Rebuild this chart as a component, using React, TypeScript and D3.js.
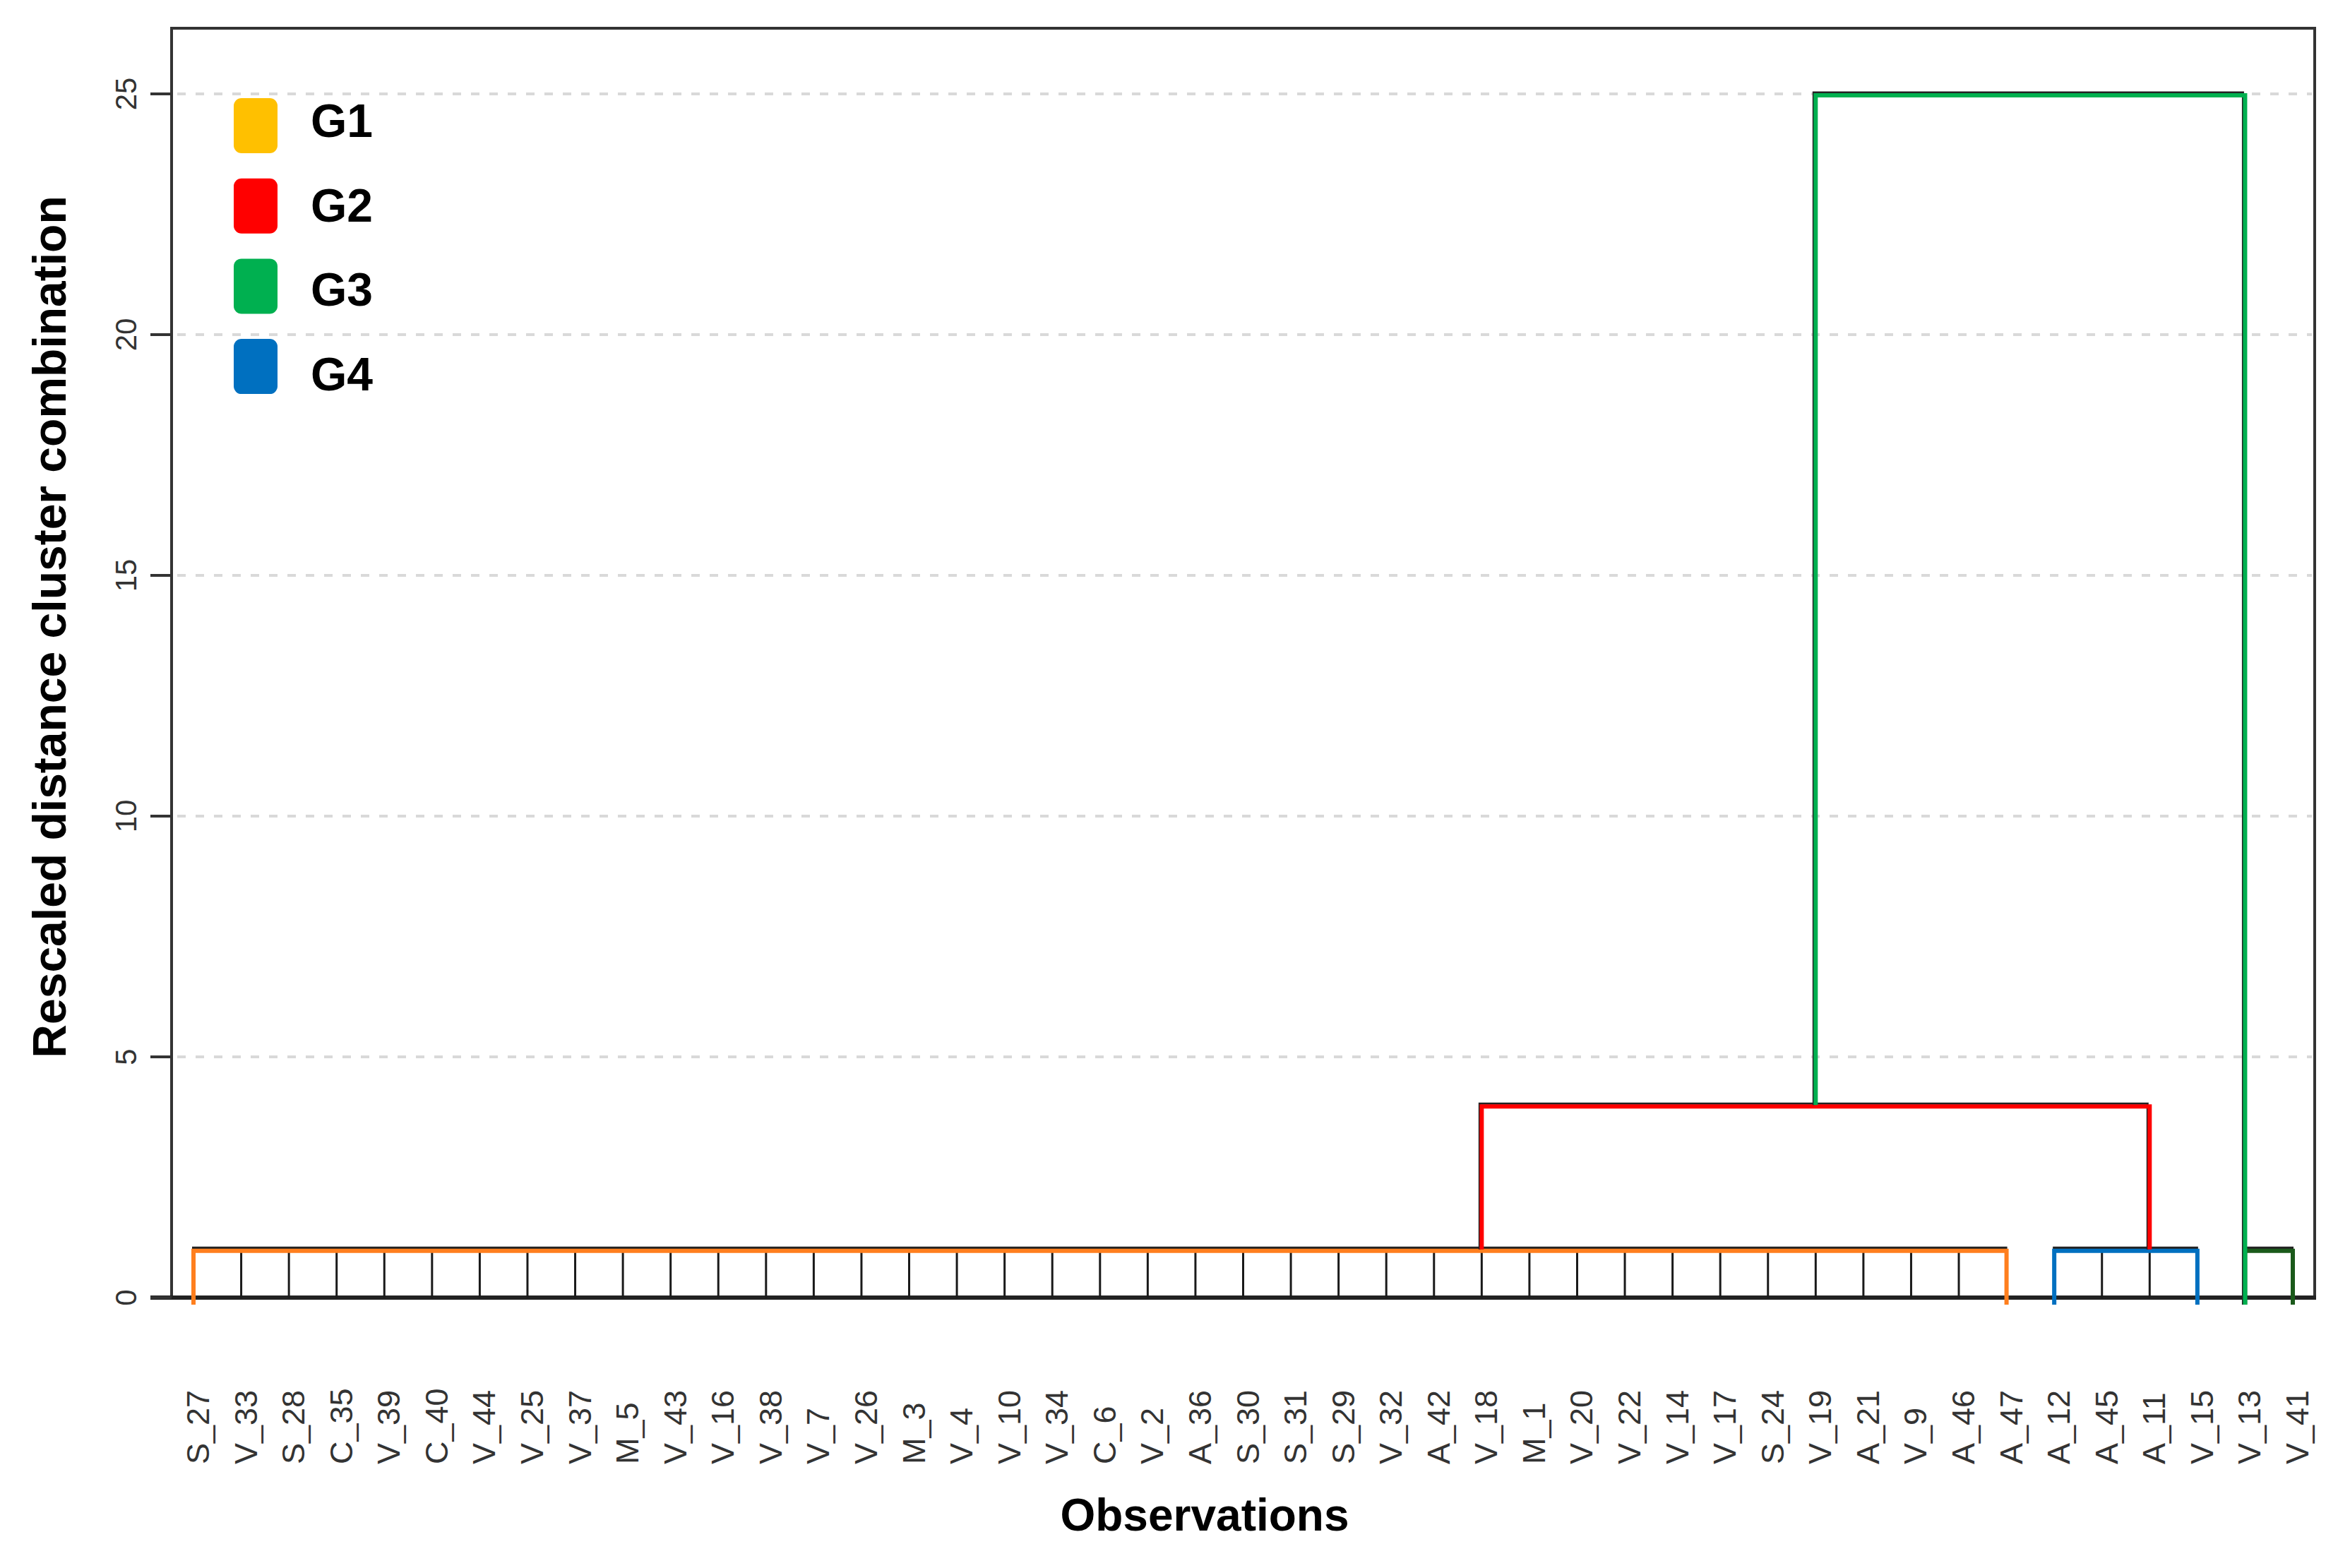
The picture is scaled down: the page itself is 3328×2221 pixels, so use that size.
import React from "react";
import * as d3 from "d3";

const leafLabels = [
  "S_27", "V_33", "S_28", "C_35", "V_39", "C_40", "V_44", "V_25", "V_37", "M_5",
  "V_43", "V_16", "V_38", "V_7", "V_26", "M_3", "V_4", "V_10", "V_34", "C_6",
  "V_2", "A_36", "S_30", "S_31", "S_29", "V_32", "A_42", "V_18", "M_1", "V_20",
  "V_22", "V_14", "V_17", "S_24", "V_19", "A_21", "V_9", "A_46", "A_47", "A_12",
  "A_45", "A_11", "V_15", "V_13", "V_41",
];

const yTicks = [0, 5, 10, 15, 20, 25];

const legendNames = ["G1", "G2", "G3", "G4"];
const legendColors = ["#FFC000", "#FF0000", "#00B050", "#0070C0"];

// first-level clusters (all leaves from `first` to `last` merged at `height`)
const leafClusters = [
  { first: "S_27", last: "A_47", height: 1, color: "#FF7F1E" },
  { first: "A_12", last: "V_15", height: 1, color: "#0070C0" },
  { first: "V_13", last: "V_41", height: 1, color: "#1B5A1B" },
];

// higher-level joins
const joins = [
  { left: "V_18", leftBase: 1, right: "A_11", rightBase: 1, height: 4, color: "#FF0000" },
  { left: "V_19", leftBase: 4, right: "V_13", rightBase: 0, height: 25, color: "#00B050" },
];

const W = 3328;
const H = 2221;
const PLOT = { left: 243, right: 3278, top: 40, bottom: 1838 };
const FONT = "'Liberation Sans', Arial, Helvetica, sans-serif";

export default function App() {
  const x = d3.scalePoint<string>().domain(leafLabels).range([274, 3247]);
  const y = d3.scaleLinear().domain([0, 25]).range([PLOT.bottom, 133]);
  const y0 = y(0);
  const below = 10;

  return (
    <svg
      width={W}
      height={H}
      viewBox={`0 0 ${W} ${H}`}
      style={{ position: "absolute", left: 0, top: 0, background: "#fff" }}
    >
      <rect x={0} y={0} width={W} height={H} fill="#fff" />

      {/* grid lines */}
      {yTicks.filter((t) => t > 0).map((t) => (
        <line
          key={"g" + t}
          x1={PLOT.left + 8}
          x2={PLOT.right - 4}
          y1={y(t)}
          y2={y(t)}
          stroke="#d9d9d9"
          strokeWidth={4}
          strokeDasharray="12 14"
        />
      ))}

      {/* frame */}
      <path
        d={`M${PLOT.left},${y0} V${PLOT.top} H${PLOT.right} V${y0}`}
        fill="none"
        stroke="#333"
        strokeWidth={4}
      />
      <line x1={213} x2={PLOT.right + 2} y1={y0} y2={y0} stroke="#222" strokeWidth={6} />

      {/* y ticks */}
      {yTicks.map((t) => (
        <g key={"t" + t}>
          <line x1={213} x2={PLOT.left} y1={y(t)} y2={y(t)} stroke="#333" strokeWidth={4} />
          <text
            transform={`translate(193,${y(t)}) rotate(-90)`}
            textAnchor="middle"
            fontFamily={FONT}
            fontSize={42}
            fill="#333"
          >
            {t}
          </text>
        </g>
      ))}

      {/* leaf clusters */}
      {leafClusters.map((c, ci) => {
        const i0 = leafLabels.indexOf(c.first);
        const i1 = leafLabels.indexOf(c.last);
        const inner = leafLabels.slice(i0 + 1, i1);
        const xa = x(c.first)!;
        const xb = x(c.last)!;
        const yh = y(c.height);
        return (
          <g key={"c" + ci}>
            {inner.map((l) => (
              <line
                key={l}
                x1={x(l)}
                x2={x(l)}
                y1={y0}
                y2={yh - 3}
                stroke="#1a1a1a"
                strokeWidth={3}
              />
            ))}
            <line x1={xa - 2} x2={xb + 1} y1={yh - 2} y2={yh - 2} stroke="#222" strokeWidth={4} />
            <path
              d={`M${xa},${y0 + below} V${yh + 2} H${xb} V${y0 + below}`}
              fill="none"
              stroke={c.color}
              strokeWidth={6}
            />
          </g>
        );
      })}

      {/* joins */}
      {joins.map((j, ji) => {
        const xa = x(j.left)!;
        const xb = x(j.right)!;
        const yh = y(j.height);
        const ya = j.leftBase === 0 ? y0 + below : y(j.leftBase);
        const yb = j.rightBase === 0 ? y0 + below : y(j.rightBase);
        return (
          <g key={"j" + ji}>
            <path
              d={`M${xa - 3},${ya} V${yh - 2} H${xb - 3} V${yb}`}
              fill="none"
              stroke="#222"
              strokeWidth={3}
            />
            <path
              d={`M${xa},${ya} V${yh + 2} H${xb} V${yb}`}
              fill="none"
              stroke={j.color}
              strokeWidth={6}
            />
          </g>
        );
      })}

      {/* leaf labels */}
      {leafLabels.map((l) => (
        <text
          key={"l" + l}
          transform={`translate(${x(l)! + 22},2074) rotate(-90)`}
          textAnchor="start"
          fontFamily={FONT}
          fontSize={45}
          fill="#333"
        >
          {l}
        </text>
      ))}

      {/* legend */}
      {legendNames.map((n, i) => (
        <g key={"lg" + n}>
          <rect
            x={331}
            y={178 + i * 113.7 - 39}
            width={62}
            height={78}
            rx={11}
            ry={11}
            fill={legendColors[i]}
          />
          <text
            x={440}
            y={194 + i * 119.7}
            fontFamily={FONT}
            fontWeight="bold"
            fontSize={66}
            fill="#000"
          >
            {n}
          </text>
        </g>
      ))}

      {/* axis titles */}
      <text
        x={1706}
        y={2168}
        textAnchor="middle"
        fontFamily={FONT}
        fontWeight="bold"
        fontSize={64}
        fill="#000"
      >
        Observations
      </text>
      <text
        transform="translate(93,888) rotate(-90)"
        textAnchor="middle"
        fontFamily={FONT}
        fontWeight="bold"
        fontSize={66}
        fill="#000"
      >
        Rescaled distance cluster combination
      </text>
    </svg>
  );
}
